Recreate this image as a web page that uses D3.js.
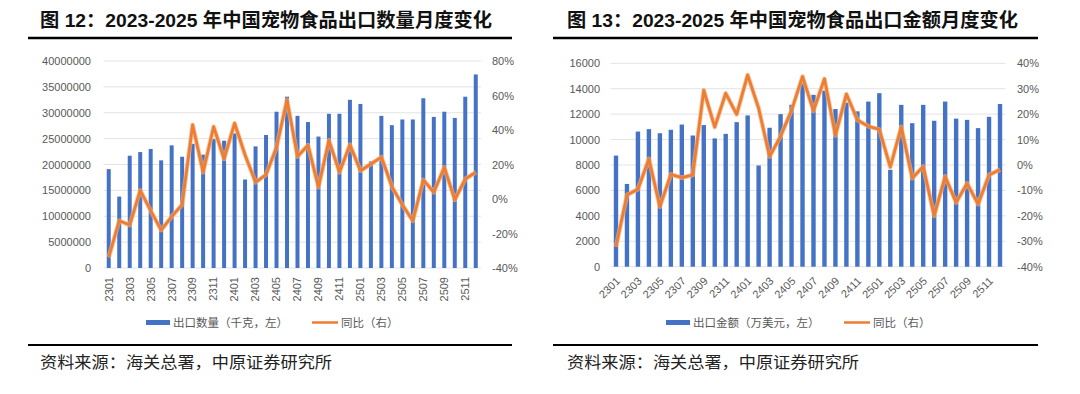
<!DOCTYPE html>
<html>
<head>
<meta charset="utf-8">
<script src="https://cdn.jsdelivr.net/npm/d3@7"></script>
<style>
  body { margin: 0; background: #fff; }
  svg text { font-family: "Liberation Sans", Arial, "Noto Sans CJK SC", sans-serif; }
</style>
</head>
<body>
<svg id="chart" width="1080" height="394"></svg>
<script>
var months = ["2301","2302","2303","2304","2305","2306","2307","2308","2309","2310","2311","2312",
              "2401","2402","2403","2404","2405","2406","2407","2408","2409","2410","2411","2412",
              "2501","2502","2503","2504","2505","2506","2507","2508","2509","2510","2511","2512"];

// export quantity, kg (thousand kg label in source)
var qtyValues = [19100000,13800000,21700000,22400000,23000000,20800000,23700000,21500000,24000000,21900000,24900000,24600000,
                 26000000,17100000,23500000,25700000,30200000,33100000,29400000,28200000,25400000,29800000,29800000,32500000,
                 31700000,20600000,29400000,27600000,28700000,28700000,32800000,29200000,30200000,29000000,33100000,37400000];
var qtyYoy = [-33.8,-12.6,-15.1,5.0,-6.8,-18.0,-10.2,-3.3,43.0,15.5,41.9,23.2,
              43.9,25.5,9.7,14.1,30.0,57.5,24.6,31.2,6.8,34.0,15.5,31.5,
              16.4,20.3,24.3,7.2,-3.4,-12.6,11.1,3.9,18.4,-0.5,11.6,15.5];

// export amount, 10k USD
var amtValues = [8740,6510,10630,10820,10500,10770,11180,10320,11140,10090,10450,11370,
                 11900,7960,10930,12000,12740,14450,13520,13850,12400,12900,12220,12990,
                 13650,7620,12730,11290,12730,11480,12990,11650,11550,10900,11790,12800];
var amtYoy = [-32.2,-11.8,-9.5,2.4,-16.4,-3.7,-5.0,-3.9,29.4,14.9,28.2,19.9,
              35.4,22.3,3.3,11.3,21.5,34.8,21.3,33.9,11.6,27.9,17.7,15.2,
              14.0,-0.8,15.0,-5.2,-0.6,-20.0,-4.5,-14.8,-7.2,-15.4,-3.9,-1.8];

var qtyTicks = [0,5000000,10000000,15000000,20000000,25000000,30000000,35000000,40000000];
var qtyYoyTicks = [-40,-20,0,20,40,60,80];
var amtTicks = [0,2000,4000,6000,8000,10000,12000,14000,16000];
var amtYoyTicks = [-40,-30,-20,-10,0,10,20,30,40];

var blue = "#4472c4",
    orange = "#ed7d31",
    grey = "#595959";

var svg = d3.select("#chart");

function drawChart(o) {
  var g = svg.append("g");

  // title and rules
  g.append("text")
    .attr("x", o.titleX).attr("y", 27)
    .attr("textLength", o.titleLen).attr("lengthAdjust", "spacingAndGlyphs")
    .style("font-size", "19px").style("font-weight", "bold").style("fill", "#111")
    .text(o.title);
  g.append("line").attr("x1", o.ruleX1).attr("x2", o.ruleX2).attr("y1", 38).attr("y2", 38)
    .attr("stroke", "#000").attr("stroke-width", 2.5);
  g.append("line").attr("x1", o.ruleX1).attr("x2", o.ruleX2).attr("y1", 345).attr("y2", 345)
    .attr("stroke", "#000").attr("stroke-width", 2);
  g.append("text")
    .attr("x", o.titleX).attr("y", 368)
    .attr("textLength", 292).attr("lengthAdjust", "spacingAndGlyphs")
    .style("font-size", "16px").style("fill", "#222")
    .text("资料来源：海关总署，中原证券研究所");

  var x = d3.scaleBand().domain(months).range(o.xRange).paddingInner(o.barPad).paddingOuter(o.barPad / 2);
  var y = d3.scaleLinear().domain([0, o.leftTicks[o.leftTicks.length - 1]]).range(o.yRange);
  var y2 = d3.scaleLinear().domain([o.rightTicks[0], o.rightTicks[o.rightTicks.length - 1]]).range(o.yRange);

  // gridlines
  g.append("g").selectAll("line").data(o.leftTicks).enter().append("line")
    .attr("x1", o.xRange[0]).attr("x2", o.xRange[1])
    .attr("y1", function (d) { return y(d); }).attr("y2", function (d) { return y(d); })
    .attr("stroke", "#e3e3e3").attr("stroke-width", 1);

  // axes
  var yAxis = d3.axisLeft(y).tickValues(o.leftTicks).tickSize(0).tickPadding(0).tickFormat(d3.format("d"));
  var ga = g.append("g").attr("transform", "translate(" + o.leftLabelX + ",0)").call(yAxis);
  var y2Axis = d3.axisRight(y2).tickValues(o.rightTicks).tickSize(0).tickPadding(0)
    .tickFormat(function (d) { return d + "%"; });
  var gb = g.append("g").attr("transform", "translate(" + o.rightLabelX + ",0)").call(y2Axis);
  [ga, gb].forEach(function (a) {
    a.select(".domain").remove();
    a.selectAll("text").style("font-size", "11px").style("fill", grey)
      .style("font-family", "Liberation Sans, Arial, sans-serif");
  });

  // bars
  g.append("g").selectAll("rect").data(o.values).enter().append("rect")
    .attr("x", function (d, i) { return x(months[i]); })
    .attr("width", x.bandwidth())
    .attr("y", function (d) { return y(d); })
    .attr("height", function (d) { return y(0) - y(d); })
    .attr("fill", blue);

  // yoy line
  var line = d3.line()
    .x(function (d, i) { return x(months[i]) + x.bandwidth() / 2; })
    .y(function (d) { return y2(d); });
  g.append("path").attr("d", line(o.yoy))
    .attr("fill", "none").attr("stroke", "#f4b183").attr("stroke-width", 4.6)
    .attr("stroke-linejoin", "round").attr("opacity", 0.7);
  g.append("path").attr("d", line(o.yoy))
    .attr("fill", "none").attr("stroke", orange).attr("stroke-width", 2.8)
    .attr("stroke-linejoin", "round");

  // x labels (every other month)
  g.append("g").selectAll("text").data(months.filter(function (d, i) { return i % 2 === 0; }))
    .enter().append("text")
    .attr("transform", function (d) {
      return "translate(" + (x(d) + x.bandwidth() / 2 + o.labelShift) + "," + o.labelY + ") rotate(" + o.labelRotate + ")";
    })
    .attr("dy", "0.35em")
    .attr("text-anchor", "end")
    .style("font-size", "11px").style("fill", grey)
    .text(function (d) { return d; });

  // legend
  var lg = g.append("g").style("font-size", "11.5px").style("fill", grey);
  lg.append("rect").attr("x", o.legend[0]).attr("y", 320).attr("width", 24).attr("height", 5).attr("fill", blue);
  lg.append("text").attr("x", o.legend[0] + 27).attr("y", 326.5).text(o.barName);
  lg.append("line").attr("x1", o.legend[1]).attr("x2", o.legend[1] + 26).attr("y1", 322.5).attr("y2", 322.5)
    .attr("stroke", orange).attr("stroke-width", 2.5);
  lg.append("text").attr("x", o.legend[1] + 29).attr("y", 326.5).text("同比（右）");
}

drawChart({
  title: "图 12：2023-2025 年中国宠物食品出口数量月度变化",
  titleX: 40, titleLen: 452, ruleX1: 28, ruleX2: 512,
  xRange: [103.5, 481], yRange: [268, 61], barPad: 0.62,
  leftTicks: qtyTicks, rightTicks: qtyYoyTicks,
  leftLabelX: 91, rightLabelX: 492,
  values: qtyValues, yoy: qtyYoy,
  labelY: 277, labelRotate: -90, labelShift: 0,
  legend: [146, 312], barName: "出口数量（千克，左）"
});

drawChart({
  title: "图 13：2023-2025 年中国宠物食品出口金额月度变化",
  titleX: 567, titleLen: 451, ruleX1: 553, ruleX2: 1038,
  xRange: [610.5, 1005.5], yRange: [266.7, 63.3], barPad: 0.6,
  leftTicks: amtTicks, rightTicks: amtYoyTicks,
  leftLabelX: 600, rightLabelX: 1017,
  values: amtValues, yoy: amtYoy,
  labelY: 279, labelRotate: -45, labelShift: 2,
  legend: [666, 844], barName: "出口金额（万美元，左）"
});
</script>
</body>
</html>
